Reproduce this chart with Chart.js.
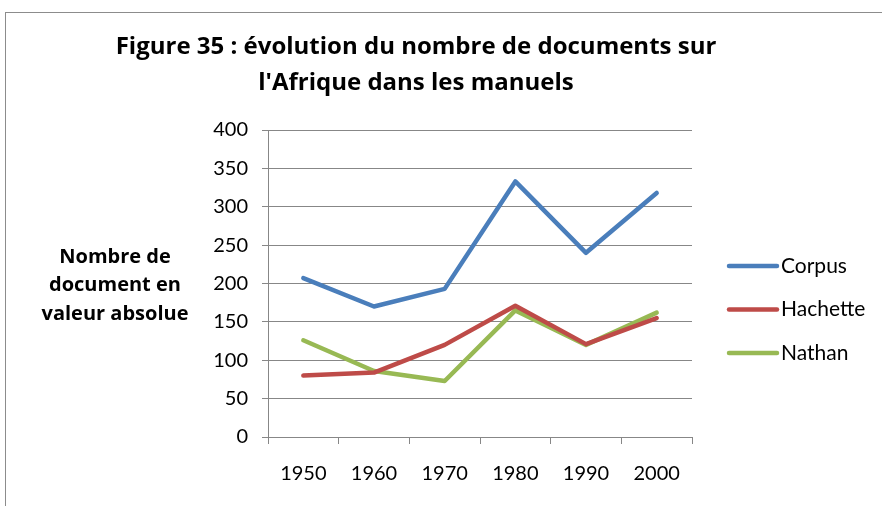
<!doctype html>
<html lang="fr">
  <head>
    <meta charset="UTF-8" />
    <title>Figure 35</title>
    <script src="https://cdn.jsdelivr.net/npm/chart.js"></script>
    <style>
      html,
      body {
        margin: 0;
        padding: 0;
        width: 882px;
        height: 506px;
        overflow: hidden;
        background: #fff;
      }
      /* outer frame of the chart object */
      .frame {
        position: absolute;
        left: 5px;
        top: 12px;
        width: 1000px;
        height: 600px;
        border: 1px solid #8c8c8c;
      }
      #chart {
        position: absolute;
        left: 0;
        top: 0;
      }
    </style>
  </head>
  <body>
    <div class="frame"></div>
    <canvas id="chart" width="882" height="506"></canvas>
    <script>
      const years = ["1950", "1960", "1970", "1980", "1990", "2000"];
      const corpus = [207, 170, 193, 333, 240, 318];
      const hachette = [80, 84, 120, 171, 121, 155];
      const nathan = [126, 86, 73, 165, 120, 162];
      const titleLines = [
        "Figure 35 : évolution du nombre de documents sur",
        "l'Afrique dans les manuels",
      ];
      const yTitleLines = ["Nombre de", "document en", "valeur absolue"];

      const FONT = "Lato, 'Open Sans', sans-serif";
      const BOLD_FONT = "'Open Sans', Lato, sans-serif";
      const GRID = "#878787";

      // title, y axis caption and legend drawn on top of the chart
      const textPlugin = {
        id: "texts",
        afterDraw(chart) {
          const ctx = chart.ctx;
          const area = chart.chartArea;
          ctx.save();
          ctx.fillStyle = "#000";
          ctx.textBaseline = "middle";

          ctx.textAlign = "center";
          ctx.font = "bold 24px " + BOLD_FONT;
          titleLines.forEach((t, i) => ctx.fillText(t, 416, 47 + i * 36));

          ctx.font = "bold 20px " + BOLD_FONT;
          yTitleLines.forEach((t, i) =>
            ctx.fillText(t, 115, area.top + 127 + i * 28.5),
          );

          ctx.textAlign = "left";
          ctx.font = "21px " + FONT;
          chart.data.datasets.forEach((ds, i) => {
            const y = area.top + 136 + i * 43.5;
            ctx.strokeStyle = ds.borderColor;
            ctx.lineWidth = 4.5;
            ctx.lineCap = "round";
            ctx.beginPath();
            ctx.moveTo(area.right + 37, y);
            ctx.lineTo(area.right + 85, y);
            ctx.stroke();
            ctx.fillText(ds.label, area.right + 89, y);
          });
          ctx.restore();
        },
      };

      const lineStyle = (color) => ({
        borderColor: color,
        backgroundColor: color,
        borderWidth: 4.5,
        borderCapStyle: "round",
        borderJoinStyle: "round",
        pointRadius: 0,
        tension: 0,
      });

      new Chart(document.getElementById("chart"), {
        type: "line",
        data: {
          labels: years,
          datasets: [
            { label: "Corpus", data: corpus, ...lineStyle("#4a7ebb") },
            { label: "Hachette", data: hachette, ...lineStyle("#be4b48") },
            { label: "Nathan", data: nathan, ...lineStyle("#98b954") },
          ],
        },
        options: {
          responsive: false,
          animation: false,
          devicePixelRatio: 1,
          layout: { padding: { top: 130, right: 190, bottom: 0, left: 0 } },
          plugins: {
            legend: { display: false },
            title: { display: false },
            tooltip: { enabled: false },
          },
          scales: {
            x: {
              offset: true,
              afterFit(scale) {
                scale.height = 69;
              },
              border: { color: GRID, width: 1 },
              grid: {
                offset: true,
                drawOnChartArea: false,
                color: GRID,
                tickLength: 7,
              },
              ticks: {
                color: "#000",
                padding: 18,
                font: { family: FONT, size: 20 },
              },
            },
            y: {
              min: 0,
              max: 400,
              afterFit(scale) {
                scale.width = 268;
              },
              border: { color: GRID, width: 1 },
              grid: { color: GRID, tickLength: 6 },
              ticks: {
                stepSize: 50,
                color: "#000",
                padding: 14,
                font: { family: FONT, size: 20 },
              },
            },
          },
        },
        plugins: [textPlugin],
      });
    </script>
  </body>
</html>
